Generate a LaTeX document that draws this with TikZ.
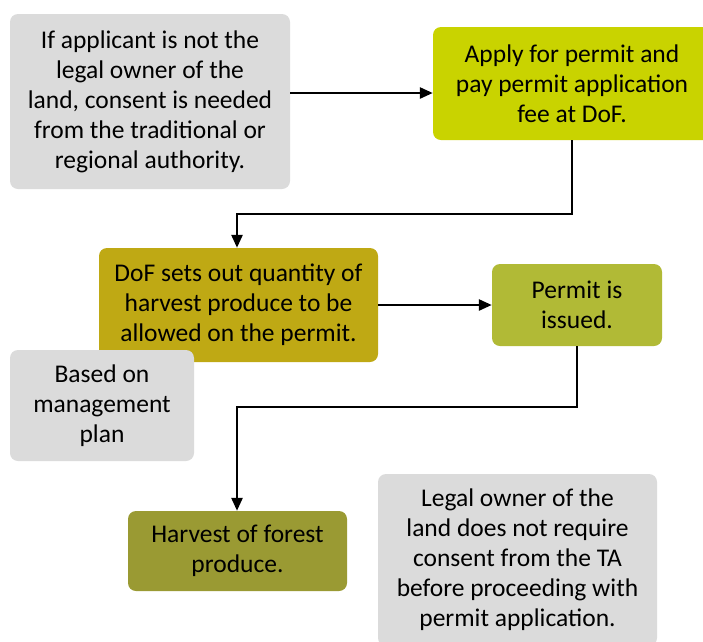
\documentclass[tikz,border=0pt]{standalone}
\usepackage{fontspec}
\setmainfont{Carlito}
\usetikzlibrary{arrows.meta}
\definecolor{boxgray}{HTML}{DBDBDB}
\definecolor{applyc}{HTML}{C9D300}
\definecolor{dofc}{HTML}{BFA914}
\definecolor{permitc}{HTML}{B1BA36}
\definecolor{harvc}{HTML}{9A9A33}
\tikzset{
  box/.style={rounded corners=8pt, inner sep=0pt, align=center, font=\fontsize{25.5}{30}\selectfont, text=black},
  conn/.style={line width=2.6pt, -{Triangle[length=13pt,width=11pt]}}
}
\begin{document}
\begin{tikzpicture}[x=1pt,y=-1pt]
\useasboundingbox (0,0) rectangle (703,641);
\clip (0,0) rectangle (703,641);
\node[box, fill=boxgray, minimum width=280pt, minimum height=175pt] (cons) at (150,101.5)
  {If applicant is not the\\legal owner of the\\land, consent is needed\\from the traditional or\\regional authority.};
\node[box, fill=applyc, minimum width=278pt, minimum height=113pt] (apply) at (572,83.5)
  {Apply for permit and\\pay permit application\\fee at DoF.};
\node[box, fill=dofc, minimum width=279pt, minimum height=114pt] (dof) at (238.5,305)
  {DoF sets out quantity of\\harvest produce to be\\allowed on the permit.};
\node[box, fill=permitc, minimum width=170pt, minimum height=82pt] (perm) at (577,305)
  {Permit is\\issued.};
\node[box, fill=boxgray, minimum width=184pt, minimum height=111pt] (based) at (102,405.5)
  {Based on\\management\\plan};
\node[box, fill=harvc, minimum width=219pt, minimum height=80pt] (harv) at (237.5,551)
  {Harvest of forest\\produce.};
\node[box, fill=boxgray, minimum width=279pt, minimum height=172pt] (legal) at (517.5,560)
  {Legal owner of the\\land does not require\\consent from the TA\\before proceeding with\\permit application.};
\coordinate (j1) at (572,214);
\coordinate (j2) at (237,214);
\coordinate (j3) at (577,407);
\coordinate (j4) at (237,407);
\draw[conn] (cons.east |- 0,93) -- (apply.west |- 0,93);
\draw[conn] (apply.south) -- (j1) -- (j2) -- (dof.north -| j2);
\draw[conn] (dof.east) -- (perm.west);
\draw[conn] (perm.south) -- (j3) -- (j4) -- (harv.north -| j4);
\end{tikzpicture}
\end{document}
